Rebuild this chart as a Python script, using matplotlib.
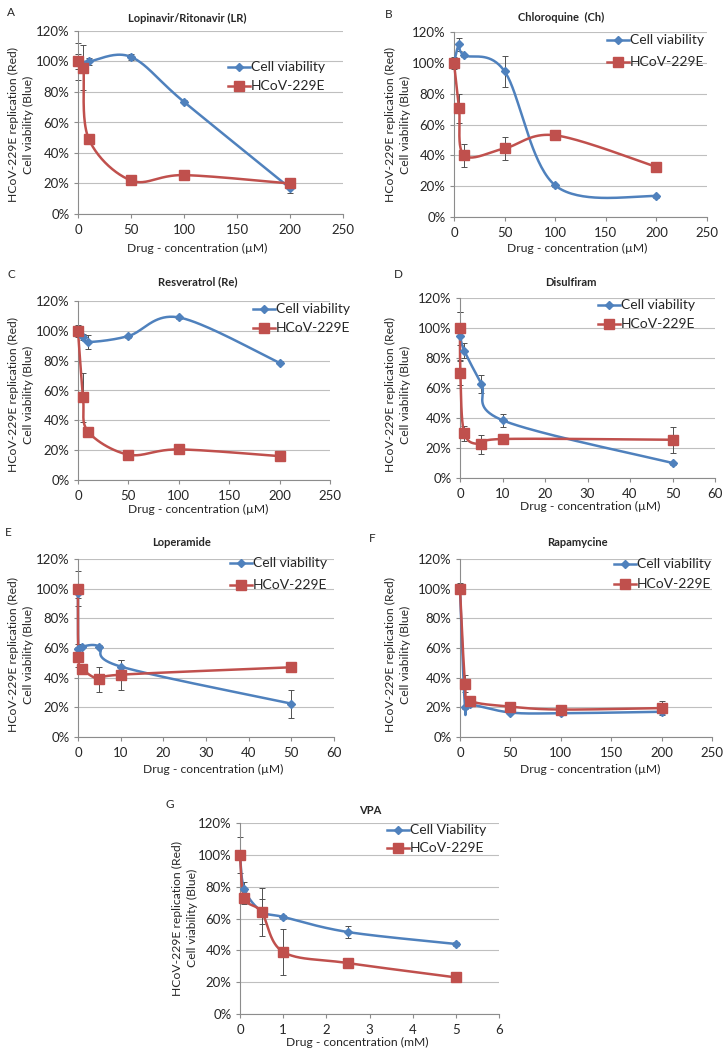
import numpy as np
import matplotlib
matplotlib.use("Agg")
import matplotlib.pyplot as plt
from matplotlib.lines import Line2D
from matplotlib.ticker import FuncFormatter

plt.rcParams['font.family'] = ['Lato', 'DejaVu Sans']

W, H = 728, 1058
BLUE = '#4F81BD'
RED = '#C0504D'
ERRC = '#505050'
GRIDC = '#BFBFBF'
TXT = '#262626'

# ---------------- data ----------------
# A  Lopinavir/Ritonavir
a_cv_x = [0, 10, 50, 100, 200]
a_cv_y = [100, 100, 103, 73.5, 17]
a_cv_e = [5, 2, 2, 1, 3]
a_hc_x = [0, 5, 10, 50, 100, 200]
a_hc_y = [100, 96, 49.5, 22, 25.5, 20]
a_hc_e = [12, 15, 0, 0, 0, 0]
# B  Chloroquine
b_cv_x = [0, 5, 10, 50, 100, 200]
b_cv_y = [100, 112, 105, 94.5, 20.5, 13.5]
b_cv_e = [0, 4, 1, 10, 1, 1]
b_hc_x = [0, 5, 10, 50, 100, 200]
b_hc_y = [100, 70.5, 40, 44.5, 53, 32.5]
b_hc_e = [4, 9.5, 7.5, 7.5, 0, 0]
# C  Resveratrol
c_cv_x = [0, 5, 10, 50, 100, 200]
c_cv_y = [100, 96, 92.5, 96.5, 109, 78.5]
c_cv_e = [0, 2, 5, 1, 1, 1]
c_hc_x = [0, 5, 10, 50, 100, 200]
c_hc_y = [100, 55.5, 32.5, 17, 20.5, 16]
c_hc_e = [4, 16.5, 0, 0, 0, 0]
# D  Disulfiram
d_cv_x = [0, 1, 5, 10, 50]
d_cv_y = [95, 85, 63, 38.5, 10]
d_cv_e = [16, 5, 6, 4.5, 1]
d_hc_x = [0, 0.1, 1, 5, 10, 50]
d_hc_y = [100, 70, 30, 22.5, 26, 25.5]
d_hc_e = [11, 8, 5, 6.5, 3, 8.5]
# E  Loperamide
e_cv_x = [0, 0.1, 1, 5, 10, 50]
e_cv_y = [97, 59.5, 61, 61, 47.5, 22.5]
e_cv_e = [3, 3, 1, 1, 4.5, 9.5]
e_hc_x = [0, 0.1, 1, 5, 10, 50]
e_hc_y = [100, 54, 46, 39, 42, 47]
e_hc_e = [12, 7, 1, 8.5, 10, 2]
# F  Rapamycine
f_cv_x = [0, 5, 10, 50, 100, 200]
f_cv_y = [100, 20, 22, 16.5, 16, 17]
f_cv_e = [0, 1, 1, 1, 1, 1]
f_hc_x = [0, 5, 10, 50, 100, 200]
f_hc_y = [100, 36, 24.5, 20.5, 18.5, 19.5]
f_hc_e = [3.5, 5.5, 2, 1, 1, 4.5]
# G  VPA
g_cv_x = [0, 0.1, 0.5, 1, 2.5, 5]
g_cv_y = [100, 78.5, 64.5, 61, 51.5, 44]
g_cv_e = [0, 4.5, 8, 1, 3.5, 1]
g_hc_x = [0, 0.1, 0.5, 1, 2.5, 5]
g_hc_y = [100, 73, 64, 39, 32, 23]
g_hc_e = [11.5, 4, 15, 14.5, 0, 0]

titles = ['Lopinavir/Ritonavir (LR)', 'Chloroquine  (Ch)', 'Resveratrol (Re)',
          'Disulfiram', 'Loperamide', 'Rapamycine', 'VPA']
letters = ['A', 'B', 'C', 'D', 'E', 'F', 'G']
cv_labels = ['Cell viability'] * 6 + ['Cell Viability']
hc_label = 'HCoV-229E'
xlabels = ['Drug - concentration (\u00b5M)'] * 6 + ['Drug - concentration (mM)']
ylabel = 'HCoV-229E replication (Red)\nCell viability (Blue)'
y_ticks = [0, 20, 40, 60, 80, 100, 120]
x_ticks_200 = [0, 50, 100, 150, 200, 250]
x_ticks_50 = [0, 10, 20, 30, 40, 50, 60]
x_ticks_5 = [0, 1, 2, 3, 4, 5, 6]

# ---------------- layout (pixels) ----------------
panels = [
    dict(box=(78, 343, 31, 214), title=(187, 18), letter=(7, 13), xl=(197, 248), yl=(21, 125), leg=(228, 67, 19),
         cv=(a_cv_x, a_cv_y, a_cv_e), hc=(a_hc_x, a_hc_y, a_hc_e), xt=x_ticks_200),
    dict(box=(454, 707, 32, 217), title=(561, 17), letter=(385, 14), xl=(577, 248), yl=(398, 125), leg=(607, 40, 22),
         cv=(b_cv_x, b_cv_y, b_cv_e), hc=(b_hc_x, b_hc_y, b_hc_e), xt=x_ticks_200),
    dict(box=(78, 330, 301, 480), title=(198, 282), letter=(8, 275), xl=(198, 509), yl=(21, 395), leg=(253, 309, 19),
         cv=(c_cv_x, c_cv_y, c_cv_e), hc=(c_hc_x, c_hc_y, c_hc_e), xt=x_ticks_200),
    dict(box=(460, 715, 298, 478), title=(571, 282), letter=(394, 275), xl=(590, 506), yl=(398, 395), leg=(598, 305, 19),
         cv=(d_cv_x, d_cv_y, d_cv_e), hc=(d_hc_x, d_hc_y, d_hc_e), xt=x_ticks_50),
    dict(box=(78, 334, 559, 737), title=(182, 542), letter=(5, 533), xl=(213, 769), yl=(21, 655), leg=(230, 563, 22),
         cv=(e_cv_x, e_cv_y, e_cv_e), hc=(e_hc_x, e_hc_y, e_hc_e), xt=x_ticks_50),
    dict(box=(460, 712, 559, 737), title=(577, 542), letter=(369, 538), xl=(590, 769), yl=(398, 655), leg=(614, 564, 20),
         cv=(f_cv_x, f_cv_y, f_cv_e), hc=(f_hc_x, f_hc_y, f_hc_e), xt=x_ticks_200),
    dict(box=(240, 499, 823, 1014), title=(370, 810), letter=(165, 804), xl=(357, 1042), yl=(185, 918), leg=(387, 830, 18),
         cv=(g_cv_x, g_cv_y, g_cv_e), hc=(g_hc_x, g_hc_y, g_hc_e), xt=x_ticks_5),
]

fig = plt.figure(figsize=(W / 100, H / 100), dpi=100)
fig.patch.set_facecolor('white')


def fx(px):
    return px / W


def fy(py):
    return 1 - py / H


def smooth(x, y, sx, sy, n=40):
    P = np.column_stack([np.asarray(x, float) * sx, np.asarray(y, float) * sy])
    out = []
    for i in range(len(P) - 1):
        p0 = P[i - 1] if i > 0 else P[i]
        p1, p2 = P[i], P[i + 1]
        p3 = P[i + 2] if i + 2 < len(P) else P[i + 1]
        c1 = p1 + (p2 - p0) / 6.0
        c2 = p2 - (p3 - p1) / 6.0
        t = np.linspace(0, 1, n)[:, None]
        seg = (1 - t) ** 3 * p1 + 3 * (1 - t) ** 2 * t * c1 + 3 * (1 - t) * t ** 2 * c2 + t ** 3 * p2
        out.append(seg if i == 0 else seg[1:])
    out = np.vstack(out)
    return out[:, 0] / sx, out[:, 1] / sy


FS_TICK = 9.5
FS_LAB = 8.7
FS_LEG = 10
for i, p in enumerate(panels):
    l, r, t, b = p['box']
    ax = fig.add_axes([fx(l), fy(b), (r - l) / W, (b - t) / H])
    xt = p['xt']
    ax.set_xlim(xt[0], xt[-1])
    ax.set_ylim(0, 120)
    ax.set_xticks(xt)
    ax.set_yticks(y_ticks)
    ax.yaxis.set_major_formatter(FuncFormatter(lambda v, pos: f'{v:.0f}%'))
    ax.grid(axis='y', color=GRIDC, linewidth=0.8)
    ax.set_axisbelow(True)
    for s in ['top', 'right']:
        ax.spines[s].set_visible(False)
    for s in ['left', 'bottom']:
        ax.spines[s].set_color('#8C8C8C')
        ax.spines[s].set_linewidth(0.8)
    ax.tick_params(axis='x', length=3, width=0.8, color='#8C8C8C', pad=4, labelsize=FS_TICK, labelcolor=TXT)
    ax.tick_params(axis='y', length=3, width=0.8, color='#8C8C8C', pad=3, labelsize=FS_TICK, labelcolor=TXT)
    ax.patch.set_alpha(0)

    sx = (r - l) / (xt[-1] - xt[0])
    sy = (b - t) / 120.0
    for (xs, ys, es), col, mk, ms in [(p['cv'], BLUE, 'D', 4.2), (p['hc'], RED, 's', 6.5)]:
        ax.errorbar(xs, ys, yerr=es, fmt='none', ecolor=ERRC, elinewidth=0.7, capsize=2, capthick=0.7,
                    zorder=2, clip_on=False)
        cx, cy = smooth(xs, ys, sx, sy)
        ax.plot(cx, cy, color=col, lw=1.8, zorder=3, clip_on=False, solid_capstyle='round')
        ax.plot(xs, ys, linestyle='none', marker=mk, markersize=ms, color=col, markeredgecolor=col,
                zorder=4, clip_on=False)

    fig.text(fx(p['title'][0]), fy(p['title'][1]), titles[i], ha='center', va='center',
             fontsize=8, fontweight='bold', color=TXT)
    fig.text(fx(p['letter'][0]), fy(p['letter'][1]), letters[i], ha='left', va='center',
             fontsize=8.5, color=TXT)
    fig.text(fx(p['xl'][0]), fy(p['xl'][1]), xlabels[i], ha='center', va='center',
             fontsize=FS_LAB, color=TXT)
    fig.text(fx(p['yl'][0]), fy(p['yl'][1]), ylabel, ha='center', va='center', rotation=90,
             fontsize=FS_LAB, color=TXT, linespacing=1.4, multialignment='center')

    lx, ly, dy = p['leg']
    for j, (lab, col, mk, ms) in enumerate([(cv_labels[i], BLUE, 'D', 4.2), (hc_label, RED, 's', 6.5)]):
        yy = fy(ly + j * dy)
        fig.add_artist(Line2D([fx(lx), fx(lx + 22)], [yy, yy], color=col, lw=1.8,
                              transform=fig.transFigure))
        fig.add_artist(Line2D([fx(lx + 11)], [yy], marker=mk, markersize=ms, color=col,
                              transform=fig.transFigure))
        fig.text(fx(lx + 23), yy, lab, ha='left', va='center', fontsize=FS_LEG, color=TXT)

fig.savefig('out.png', dpi=100, facecolor='white')
